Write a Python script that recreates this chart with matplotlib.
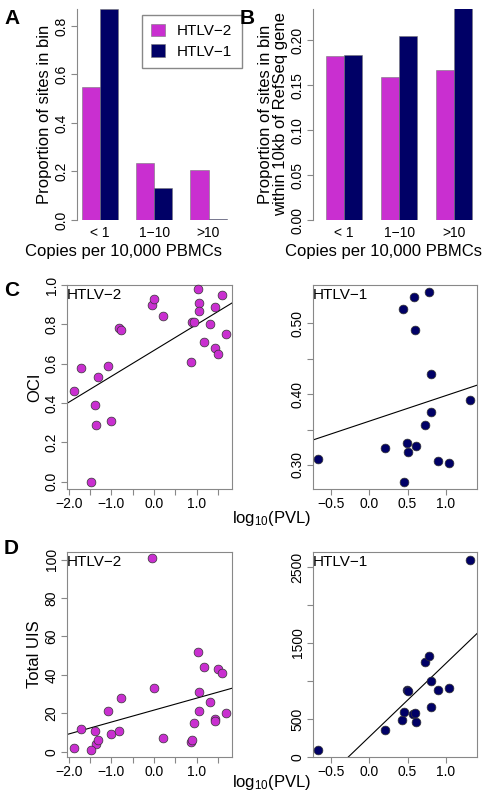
import matplotlib
matplotlib.use("Agg")
import matplotlib.pyplot as plt
import numpy as np

plt.rcParams['font.family'] = ['Liberation Sans', 'DejaVu Sans']
plt.rcParams['mathtext.fontset'] = 'custom'
plt.rcParams['mathtext.rm'] = 'Liberation Sans'

bins = ["< 1", "1\u221210", ">10"]
a_htlv2 = [0.55, 0.235, 0.205]
a_htlv1 = [0.87, 0.13, 0.003]
b_htlv2 = [0.183, 0.159, 0.167]
b_htlv1 = [0.184, 0.205, 0.24]

h2_pvl = [-1.88, -1.71, -1.39, -1.35, -1.32, -1.48, -1.08, -1.0, -0.82, -0.77, -0.04, -0.01, 0.21,
          0.87, 0.89, 0.95, 1.04, 1.06, 1.06, 1.18, 1.31, 1.42, 1.42, 1.49, 1.59, 1.69]
h2_oci = [0.46, 0.58, 0.39, 0.29, 0.53, 0.0, 0.59, 0.31, 0.78, 0.77, 0.90, 0.93, 0.84,
          0.61, 0.81, 0.81, 0.98, 0.91, 0.87, 0.71, 0.80, 0.89, 0.68, 0.65, 0.95, 0.75]
h2_uis = [2, 12, 11, 4, 6, 1, 21, 9, 11, 28, 101, 33, 7,
          5, 6, 15, 52, 31, 21, 44, 26, 17, 16, 43, 41, 20]
h1_pvl = [-0.67, 0.21, 0.45, 0.44, 0.58, 0.60, 0.78, 0.81, 0.81, 0.73, 0.49, 0.51, 0.61, 0.90, 1.04, 1.32]
h1_oci = [0.309, 0.324, 0.276, 0.520, 0.537, 0.491, 0.544, 0.428, 0.375, 0.356, 0.331, 0.318, 0.327, 0.305, 0.302, 0.392]
h1_uis_x = [-0.67, 0.21, 0.43, 0.45, 0.49, 0.51, 0.57, 0.60, 0.61, 0.73, 0.78, 0.81, 0.81, 0.90, 1.04, 1.32]
h1_uis = [96, 351, 487, 588, 877, 868, 566, 583, 456, 1254, 1329, 1004, 658, 886, 912, 2588]

MAG = "#C92FD0"
NAVY = "#000066"
TICK = 10
LAB = 12
W, H = 498, 800
fig = plt.figure(figsize=(W/100, H/100), dpi=100)

def ax_px(l, t, r, b):
    return fig.add_axes([l/W, 1-b/H, (r-l)/W, (b-t)/H])

def style(ax, box=True):
    for s in ax.spines.values():
        s.set_color("#888888")
        s.set_visible(box)
    ax.tick_params(labelsize=TICK, color="#888888", length=4, pad=2)
    for lab in ax.get_yticklabels():
        lab.set_rotation(90); lab.set_va("center")

# Panel A
axA = ax_px(77, 9, 232, 220)
pos2 = [1.5, 4.5, 7.5]; pos1 = [2.5, 5.5, 8.5]
axA.bar(pos2, a_htlv2, width=1, color=MAG, edgecolor="#777777", lw=0.4, label="HTLV\u22122")
axA.bar(pos1, a_htlv1, width=1, color=NAVY, edgecolor="#777777", lw=0.4, label="HTLV\u22121")
axA.set_xlim(0.72, 9.3); axA.set_ylim(0, 0.87)
axA.set_yticks([0, 0.2, 0.4, 0.6, 0.8])
axA.set_xticks([2, 5, 8]); axA.set_xticklabels(bins)
style(axA, box=False); axA.spines["left"].set_visible(True)
axA.tick_params(axis="x", length=0, labelsize=TICK, pad=4)
axA.set_ylabel("Proportion of sites in bin", fontsize=LAB, labelpad=2)
axA.set_xlabel("Copies per 10,000 PBMCs", fontsize=LAB)
axA.xaxis.set_label_coords(0.3, -0.115)
axA.legend(loc="upper left", bbox_to_anchor=(0.37, 1.01), fontsize=11, handlelength=0.9,
           handleheight=0.9, borderpad=0.6, labelspacing=0.4, fancybox=False, edgecolor="#888888", framealpha=1)

# Panel B
axB = ax_px(313, 9, 476, 220)
axB.bar(pos2, b_htlv2, width=1, color=MAG, edgecolor="#777777", lw=0.4)
axB.bar(pos1, b_htlv1, width=1, color=NAVY, edgecolor="#777777", lw=0.4)
axB.set_xlim(0.3, 9.2); axB.set_ylim(0, 0.235)
axB.set_yticks([0, 0.05, 0.10, 0.15, 0.20])
axB.set_yticklabels(["0.00", "0.05", "0.10", "0.15", "0.20"])
axB.set_xticks([2, 5, 8]); axB.set_xticklabels(bins)
style(axB, box=False); axB.spines["left"].set_visible(True)
axB.tick_params(axis="x", length=0, labelsize=TICK, pad=4)
axB.set_ylabel("Proportion of sites in bin\nwithin 10kb of RefSeq gene", fontsize=LAB, labelpad=2, linespacing=1.0)
axB.set_xlabel("Copies per 10,000 PBMCs", fontsize=LAB)
axB.xaxis.set_label_coords(0.43, -0.115)

def scatter_panel(ax, x, y, color, xlim, ylim, xt, xtl, yt, ytl, label):
    coef = np.polyfit(x, y, 1)
    xx = np.array(xlim)
    ax.plot(xx, np.polyval(coef, xx), color="black", lw=0.8)
    ax.scatter(x, y, s=40, color=color, edgecolor="#333333", lw=0.5, zorder=3, clip_on=False)
    ax.set_xlim(xlim); ax.set_ylim(ylim)
    ax.set_xticks(xt); ax.set_xticklabels(xtl)
    ax.set_yticks(yt); ax.set_yticklabels(ytl)
    style(ax)
    ax.text(0.0, 0.985, label, transform=ax.transAxes, ha="left", va="top", fontsize=11)

x2t = [-2, -1.5, -1, -0.5, 0, 0.5, 1, 1.5]
x2tl = ["\u22122.0", "", "\u22121.0", "", "0.0", "", "1.0", ""]
x1t = [-0.5, 0, 0.5, 1.0]
x1tl = ["\u22120.5", "0.0", "0.5", "1.0"]

axC1 = ax_px(67, 285, 232, 489)
scatter_panel(axC1, h2_pvl, h2_oci, MAG, (-2.04, 1.83), (-0.037, 0.995), x2t, x2tl,
              [0, 0.2, 0.4, 0.6, 0.8, 1.0], ["0.0", "0.2", "0.4", "0.6", "0.8", "1.0"], "HTLV\u22122")
axC1.set_ylabel("OCI", fontsize=LAB, labelpad=2)
axC2 = ax_px(313, 285, 477, 489)
scatter_panel(axC2, h1_pvl, h1_oci, NAVY, (-0.74, 1.41), (0.266, 0.554), x1t, x1tl,
              [0.30, 0.35, 0.40, 0.45, 0.50], ["0.30", "", "0.40", "", "0.50"], "HTLV\u22121")

axD1 = ax_px(67, 552, 232, 757)
scatter_panel(axD1, h2_pvl, h2_uis, MAG, (-2.04, 1.83), (-2.8, 104), x2t, x2tl,
              [0, 20, 40, 60, 80, 100], ["0", "20", "40", "60", "80", "100"], "HTLV\u22122")
axD1.set_ylabel("Total UIS", fontsize=LAB, labelpad=2)
axD2 = ax_px(313, 552, 477, 757)
scatter_panel(axD2, h1_uis_x, h1_uis, NAVY, (-0.74, 1.41), (0, 2697), x1t, x1tl,
              [0, 500, 1000, 1500, 2000, 2500], ["0", "500", "", "1500", "", "2500"], "HTLV\u22121")

fig.text(272/W, 1-518/H, r"$\mathregular{log_{10}(PVL)}$", ha="center", va="center", fontsize=LAB)
fig.text(272/W, 1-783/H, r"$\mathregular{log_{10}(PVL)}$", ha="center", va="center", fontsize=LAB)
for lab, x, y in [("A", 4, 18), ("B", 240, 18), ("C", 4, 290), ("D", 4, 548)]:
    fig.text(x/W, 1-y/H, lab, fontsize=15, fontweight="bold", va="center", ha="left")

fig.savefig("out.png", dpi=100)
